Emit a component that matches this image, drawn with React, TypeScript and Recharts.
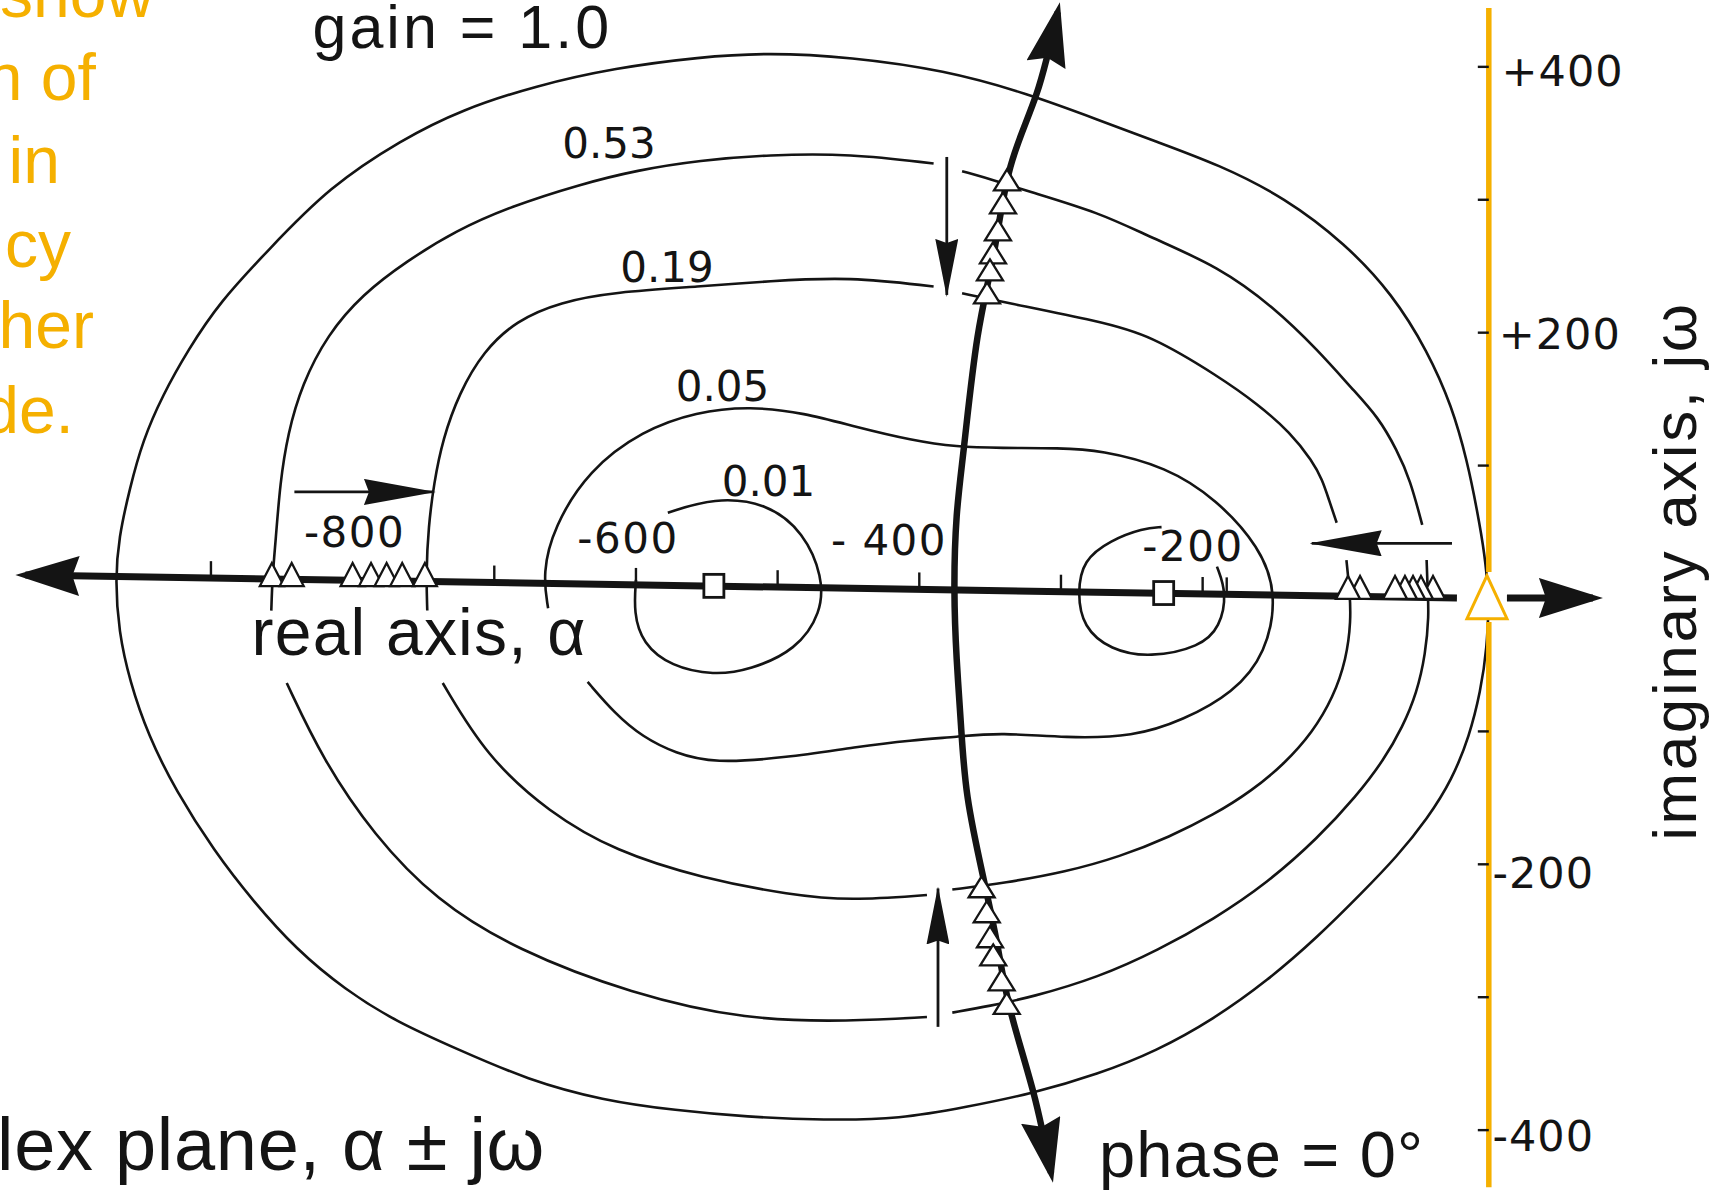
import React from 'react';
import { ComposedChart, XAxis, YAxis, Line, Scatter } from 'recharts';

type P = [number, number];

const CHART_W = 1722;
const CHART_H = 1191;
const ALPHA_DOMAIN: [number, number] = [-1048.9, 166.6];
const OMEGA_DOMAIN: [number, number] = [-445.8, 450.3];

const INK = '#141414';
const ORANGE = '#F5B000';

// ---- gain contours (real axis alpha, imaginary omega) ----
const gain100: P[] = [
  [2, 0], [0.8, -37.2], [-3.9, -70.2], [-11.6, -103.3], [-24.0, -136.4], [-41.1, -165.3], [-62.8, -194.2],
  [-87.6, -221.5], [-118.6, -254.5], [-154.3, -287.6], [-192.2, -316.5], [-232.6, -340.5], [-273.6, -357.8],
  [-320.9, -372.7], [-366.7, -382.6], [-413.2, -391.7], [-467.4, -392.5], [-521.7, -390.1], [-572.1, -385.1],
  [-623.3, -377.7], [-676.8, -362.0], [-724.8, -339.7], [-769.8, -318.2], [-805.4, -294.2], [-839.5, -264.4],
  [-870.6, -227.3], [-897.7, -190.1], [-924.8, -144.6], [-944.2, -103.3], [-957.4, -62.0], [-965.1, -24.8],
  [-967.5, 14.0], [-965.1, 45.5], [-957.4, 82.6], [-948.1, 119.0], [-934.1, 152.9], [-916.3, 186.8],
  [-893.8, 223.1], [-859.7, 262.0], [-816.3, 309.9], [-765.1, 345.4], [-723.3, 367.7], [-670.5, 385.9],
  [-614.7, 399.2], [-555.0, 407.4], [-506.2, 410.7], [-448.8, 407.4], [-382.2, 397.5], [-324.0, 380.1],
  [-272.1, 359.5], [-234.9, 344.6], [-188.4, 326.4], [-141.9, 301.6], [-99.2, 266.9], [-65.9, 228.9],
  [-41.1, 185.9], [-24.0, 144.6], [-13.2, 103.3], [-6.2, 66.1], [-0.8, 33.1], [2, 0],
];

const gain053A: P[] = [
  [-857.4, -9.1], [-856.6, 16.5], [-854.3, 43.8], [-851.2, 86.8], [-845.8, 124.0], [-835.7, 161.1],
  [-817.9, 198.3], [-793.0, 228.9], [-762.0, 253.7], [-727.1, 276.8], [-688.4, 295.0], [-639.5, 311.6],
  [-599.2, 322.3], [-555.0, 329.7], [-506.2, 333.9], [-448.8, 334.7], [-389.9, 327.3],
];
const gain053B: P[] = [
  [-369.8, 321.5], [-345.0, 314.0], [-326.4, 307.4], [-272.1, 290.1], [-237.2, 271.9], [-188.4, 249.6],
  [-149.6, 219.0], [-118.6, 186.8], [-93.8, 157.0], [-76.0, 136.4], [-62.8, 111.6], [-53.5, 89.3], [-45.0, 55.4],
];
const gain053C: P[] = [
  [-41.9, 28.9], [-41.1, 4.1], [-40.3, -12.4], [-42.6, -41.3], [-48.8, -71.1], [-58.9, -96.7], [-72.1, -121.5],
  [-91.5, -148.8], [-118.6, -180.2], [-154.3, -214.0], [-192.2, -241.3], [-231.0, -264.4], [-273.6, -285.1],
  [-320.9, -300.0], [-350.4, -306.6], [-376.7, -311.6],
];
const gain053D: P[] = [
  [-394.6, -314.9], [-448.8, -318.2], [-521.7, -317.3], [-603.1, -297.5], [-684.5, -264.4], [-741.1, -227.3],
  [-785.3, -177.7], [-820.9, -121.5], [-846.5, -63.6],
];

const gain019A: P[] = [
  [-747.3, -9.1], [-748.1, 19.0], [-746.5, 53.7], [-742.6, 86.8], [-736.4, 119.8], [-724.8, 154.5],
  [-707.8, 185.9], [-684.5, 209.1], [-653.5, 223.1], [-614.7, 230.6], [-555.0, 234.7], [-506.2, 238.8],
  [-448.8, 242.1], [-389.9, 234.7],
];
const gain019B: P[] = [
  [-369.8, 229.7], [-341.1, 223.1], [-272.1, 208.3], [-237.2, 198.3], [-188.4, 166.9], [-161.2, 146.3],
  [-138.0, 124.8], [-122.5, 103.3], [-115.5, 89.3], [-110.9, 74.4], [-105.4, 57.0],
];
const gain019C: P[] = [
  [-98.5, 28.9], [-96.1, 4.1], [-95.3, -16.5], [-98.5, -45.5], [-107.8, -74.4], [-122.5, -100.8],
  [-141.9, -124.0], [-165.1, -144.6], [-192.2, -162.8], [-223.3, -179.3], [-258.1, -194.2], [-296.9, -205.8],
  [-339.5, -214.0], [-376.7, -219.0],
];
const gain019D: P[] = [
  [-394.6, -223.1], [-448.8, -227.3], [-490.7, -223.1], [-552.7, -210.7], [-614.7, -190.1], [-661.2, -161.1],
  [-705.4, -119.0], [-736.4, -63.6],
];

const gain005: P[] = [
  [-634.1, -62.8], [-614.7, -86.8], [-595.4, -104.1], [-572.1, -116.5], [-545.0, -124.0], [-493.8, -119.8],
  [-444.2, -111.6], [-405.4, -106.6], [-373.6, -104.1], [-342.6, -100.8], [-296.1, -105.0], [-248.8, -104.1],
  [-214.0, -91.7], [-178.3, -71.1], [-155.0, -41.3], [-147.3, 4.1], [-159.7, 38.8], [-189.9, 74.4],
  [-225.6, 99.2], [-272.1, 111.6], [-300.8, 113.2], [-342.6, 113.2], [-373.6, 114.0], [-405.4, 119.0],
  [-444.2, 128.9], [-481.4, 139.7], [-519.4, 144.6], [-557.4, 140.5], [-595.4, 126.4], [-633.3, 96.7],
  [-658.1, 53.7], [-665.9, 19.0], [-662.0, -7.4],
];

const gain001Left: P[] = [
  [-577.5, 64.5], [-545.0, 76.0], [-507.0, 71.9], [-481.4, 49.6], [-468.2, 16.5], [-469.0, -10.7],
  [-486.8, -38.8], [-519.4, -53.7], [-545.0, -57.8], [-575.2, -51.2], [-595.4, -33.9], [-601.6, -10.7],
  [-600.0, 14.0],
];
const gain001Right: P[] = [
  [-189.9, 24.0], [-182.9, 4.1], [-187.6, -21.5], [-201.6, -36.4], [-237.2, -44.6], [-265.1, -38.8],
  [-284.5, -21.5], [-288.4, 4.1], [-284.5, 28.9], [-265.1, 43.8], [-241.9, 52.9], [-229.0, 53.7],
];

// ---- phase = 0 locus ----
const phaseLocus: P[] = [
  [-302.3, 441.3], [-317.1, 380.1], [-335.7, 324.8], [-347.3, 260.3], [-358.9, 196.7], [-368.2, 116.5],
  [-373.6, 62.0], [-375.2, 6.6], [-373.6, -45.5], [-370.6, -95.0], [-365.9, -149.6], [-355.0, -209.1],
  [-345.0, -260.3], [-335.7, -309.9], [-319.4, -371.9], [-307.0, -432.2],
];

// ---- axes ----
const realAxis: P[] = [[-1031, 17.6], [-20.5, 0.4]];
const realAxisRight: P[] = [[14.8, 0.4], [75.5, 0.4]];
const imagAxisUpper: P[] = [[2, 444.3], [2, 20]];
const imagAxisLower: P[] = [[2, -17.6], [2, -443]];
const realTicks: P[] = [[-900, 15.3], [-700, 12.0], [-600, 10.2], [-500, 8.5], [-400, 6.8], [-300, 5.1], [-200, 3.4], [-183, 3.1]];
const imagTicks: P[] = [[2, 400], [2, 300], [2, 200], [2, 100], [2, -100], [2, -200], [2, -300], [2, -400]];

// ---- direction arrows ----
const arrowRight: P[] = [[-841.1, 80.2], [-742.6, 80.2]];
const arrowLeft: P[] = [[-24.0, 41.5], [-123.0, 41.5]];
const arrowDown: P[] = [[-380.6, 332.2], [-380.6, 228.4]];
const arrowUp: P[] = [[-386.8, -322.3], [-386.8, -218.2]];

// ---- markers ----
const realAxisPoles: P[] = [
  [-857, 18], [-843, 18], [-800, 18], [-787, 18], [-776, 18], [-765, 18], [-749, 18],
  [-37.4, 8.3], [-45.9, 8.3], [-51.5, 8.3], [-57.2, 8.3], [-64.2, 8.3], [-88.9, 8.3], [-97.4, 8.3],
];
const locusPoles: P[] = [
  [-338.1, 314.9], [-340.9, 297.6], [-344.5, 277.3], [-348.0, 260.0], [-350.1, 247.2], [-352.2, 229.9],
  [-356.0, -216.9], [-352.4, -235.7], [-350.1, -254.5], [-347.8, -268.2], [-341.9, -287.0], [-338.3, -304.6],
];
const originPole: P[] = [[0.7, 1]];
const zeros: P[] = [[-545, 9.5], [-227.5, 4.1]];

// ---- texts ----
const realTickLabels = [
  { x: -798.6, y: 38.8, t: '-800' },
  { x: -605.6, y: 34.2, t: '-600' },
  { x: -421.4, y: 32.7, t: '- 400' },
  { x: -206.8, y: 28.2, t: '-200' },
];
const imagTickLabels = [
  { x: 11.0, y: 385.6, t: '+400' },
  { x: 9.0, y: 187.7, t: '+200' },
  { x: 4.6, y: -217.8, t: '-200' },
  { x: 4.6, y: -415.7, t: '-400' },
];
const contourLabels = [
  { x: -619.0, y: 331.4, t: '0.53' },
  { x: -578.1, y: 238.1, t: '0.19' },
  { x: -538.9, y: 148.6, t: '0.05' },
  { x: -506.5, y: 77.1, t: '0.01' },
];
const titleLabels = [{ x: -828.3, y: 414.5, t: 'gain = 1.0' }];
const phaseLabels = [{ x: -273.2, y: -435.3, t: 'phase = 0°' }];
const realAxisTitle = [{ x: -871.3, y: -42.5, t: 'real axis, α' }];
const planeTitle = [{ x: -664.2, y: -430.0, t: 'complex plane, α ± jω' }];
const imagAxisTitle = [{ x: 148.2, y: 20.7, t: 'imaginary axis, jω' }];
const sideNote = [
  { x: -940.2, y: 437.5, t: 'show' },
  { x: -981.2, y: 375.1, t: 'n of' },
  { x: -1006.6, y: 312.6, t: 'in' },
  { x: -998.8, y: 249.4, t: 'cy' },
  { x: -982.6, y: 188.5, t: 'her' },
  { x: -996.7, y: 124.6, t: 'de.' },
];

const pts = (a: P[]) => a.map(([x, y]) => ({ x, y }));

const SANS = '"Liberation Sans", Arial, sans-serif';
const DEJAVU = '"DejaVu Sans", sans-serif';

const textShape = (o: { size: number; family: string; anchor: string; color?: string; ls?: number; rotate?: number }) =>
  (p: any) => (
    <text
      x={p.cx}
      y={p.cy}
      textAnchor={o.anchor}
      fontFamily={o.family}
      fontSize={o.size}
      fill={o.color || INK}
      letterSpacing={o.ls || 0}
      transform={o.rotate ? `rotate(${o.rotate} ${p.cx} ${p.cy})` : undefined}
    >
      {p.payload.t}
    </text>
  );

const triShape = (w: number, h: number, stroke: string, sw: number) => (p: any) => (
  <polygon
    points={`${p.cx},${p.cy - h / 2} ${p.cx - w / 2},${p.cy + h / 2} ${p.cx + w / 2},${p.cy + h / 2}`}
    fill="#ffffff"
    stroke={stroke}
    strokeWidth={sw}
    strokeLinejoin="miter"
  />
);

const squareShape = (p: any) => (
  <rect x={p.cx - 10} y={p.cy - 11.5} width={20} height={23} fill="#ffffff" stroke={INK} strokeWidth={2.8} />
);

const realTickShape = (p: any) => (
  <line x1={p.cx} y1={p.cy - 2} x2={p.cx} y2={p.cy - 17} stroke={INK} strokeWidth={2.4} />
);
const imagTickShape = (p: any) => (
  <line x1={p.cx - 11} y1={p.cy} x2={p.cx} y2={p.cy} stroke={INK} strokeWidth={2.4} />
);

const lineEl = (key: string, d: P[], extra: any = {}) => (
  <Line
    key={key}
    data={pts(d)}
    dataKey="y"
    type="basis"
    stroke={INK}
    strokeWidth={2.6}
    dot={false}
    activeDot={false}
    isAnimationActive={false}
    legendType="none"
    {...extra}
  />
);

export default function App() {
  return (
    <div style={{ position: 'absolute', left: 0, top: 0, width: CHART_W, height: CHART_H, background: '#fff' }}>
      <svg width={0} height={0} style={{ position: 'absolute' }}>
        <defs>
          <marker id="bigHead" markerUnits="userSpaceOnUse" viewBox="0 0 64 40" markerWidth={64} markerHeight={40} refX={54} refY={20} orient="auto-start-reverse">
            <path d="M0,0 L64,20 L0,40 L7,20 Z" fill={INK} />
          </marker>
          <marker id="thinHeadH" markerUnits="userSpaceOnUse" viewBox="0 0 72 26" markerWidth={72} markerHeight={26} refX={70} refY={13} orient="auto">
            <path d="M0,0 L72,13 L0,26 L5,13 Z" fill={INK} />
          </marker>
          <marker id="thinHeadV" markerUnits="userSpaceOnUse" viewBox="0 0 58 23" markerWidth={58} markerHeight={23} refX={56} refY={11.5} orient="auto">
            <path d="M0,0 L58,11.5 L0,23 L4,11.5 Z" fill={INK} />
          </marker>
        </defs>
      </svg>
      <ComposedChart width={CHART_W} height={CHART_H} margin={{ top: 0, right: 0, bottom: 0, left: 0 }}>
        <XAxis type="number" dataKey="x" domain={ALPHA_DOMAIN} hide allowDataOverflow />
        <YAxis type="number" dataKey="y" domain={OMEGA_DOMAIN} hide allowDataOverflow />

        {lineEl('g100', gain100)}
        {lineEl('g053a', gain053A)}
        {lineEl('g053b', gain053B)}
        {lineEl('g053c', gain053C)}
        {lineEl('g053d', gain053D)}
        {lineEl('g019a', gain019A)}
        {lineEl('g019b', gain019B)}
        {lineEl('g019c', gain019C)}
        {lineEl('g019d', gain019D)}
        {lineEl('g005', gain005)}
        {lineEl('g001l', gain001Left)}
        {lineEl('g001r', gain001Right)}

        {lineEl('locus', phaseLocus, { type: 'natural', strokeWidth: 6.5, markerStart: 'url(#bigHead)', markerEnd: 'url(#bigHead)' })}
        {lineEl('raxis', realAxis, { type: 'linear', strokeWidth: 7, markerStart: 'url(#bigHead)' })}
        {lineEl('raxisR', realAxisRight, { type: 'linear', strokeWidth: 7, markerEnd: 'url(#bigHead)' })}

        {lineEl('arR', arrowRight, { type: 'linear', strokeWidth: 2.8, markerEnd: 'url(#thinHeadH)' })}
        {lineEl('arL', arrowLeft, { type: 'linear', strokeWidth: 2.8, markerEnd: 'url(#thinHeadH)' })}
        {lineEl('arD', arrowDown, { type: 'linear', strokeWidth: 2.8, markerEnd: 'url(#thinHeadV)' })}
        {lineEl('arU', arrowUp, { type: 'linear', strokeWidth: 2.8, markerEnd: 'url(#thinHeadV)' })}

        <Scatter data={pts(realTicks)} dataKey="y" shape={realTickShape} isAnimationActive={false} legendType="none" />
        <Scatter data={pts(imagTicks)} dataKey="y" shape={imagTickShape} isAnimationActive={false} legendType="none" />
        {lineEl('iaxU', imagAxisUpper, { type: 'linear', stroke: ORANGE, strokeWidth: 5.5 })}
        {lineEl('iaxL', imagAxisLower, { type: 'linear', stroke: ORANGE, strokeWidth: 5.5 })}

        <Scatter data={pts(realAxisPoles)} dataKey="y" shape={triShape(24, 23, INK, 2.3)} isAnimationActive={false} legendType="none" />
        <Scatter data={pts(locusPoles)} dataKey="y" shape={triShape(26, 21, INK, 2.3)} isAnimationActive={false} legendType="none" />
        <Scatter data={pts(zeros)} dataKey="y" shape={squareShape} isAnimationActive={false} legendType="none" />
        <Scatter data={pts(originPole)} dataKey="y" shape={triShape(40, 43, ORANGE, 3)} isAnimationActive={false} legendType="none" />

        <Scatter data={realTickLabels} dataKey="y" shape={textShape({ size: 42, family: DEJAVU, anchor: 'middle', ls: 1.5 })} isAnimationActive={false} legendType="none" />
        <Scatter data={imagTickLabels} dataKey="y" shape={textShape({ size: 43, family: DEJAVU, anchor: 'start', ls: 1 })} isAnimationActive={false} legendType="none" />
        <Scatter data={contourLabels} dataKey="y" shape={textShape({ size: 42, family: DEJAVU, anchor: 'middle' })} isAnimationActive={false} legendType="none" />
        <Scatter data={titleLabels} dataKey="y" shape={textShape({ size: 61, family: SANS, anchor: 'start', ls: 3 })} isAnimationActive={false} legendType="none" />
        <Scatter data={phaseLabels} dataKey="y" shape={textShape({ size: 65, family: SANS, anchor: 'start', ls: 1.2 })} isAnimationActive={false} legendType="none" />
        <Scatter data={realAxisTitle} dataKey="y" shape={textShape({ size: 66, family: SANS, anchor: 'start', ls: 1.2 })} isAnimationActive={false} legendType="none" />
        <Scatter data={planeTitle} dataKey="y" shape={textShape({ size: 74, family: SANS, anchor: 'end', ls: 0.7 })} isAnimationActive={false} legendType="none" />
        <Scatter data={imagAxisTitle} dataKey="y" shape={textShape({ size: 62, family: SANS, anchor: 'middle', ls: 2.6, rotate: -90 })} isAnimationActive={false} legendType="none" />
        <Scatter data={sideNote} dataKey="y" shape={textShape({ size: 66, family: SANS, anchor: 'end', color: ORANGE })} isAnimationActive={false} legendType="none" />
      </ComposedChart>
    </div>
  );
}
